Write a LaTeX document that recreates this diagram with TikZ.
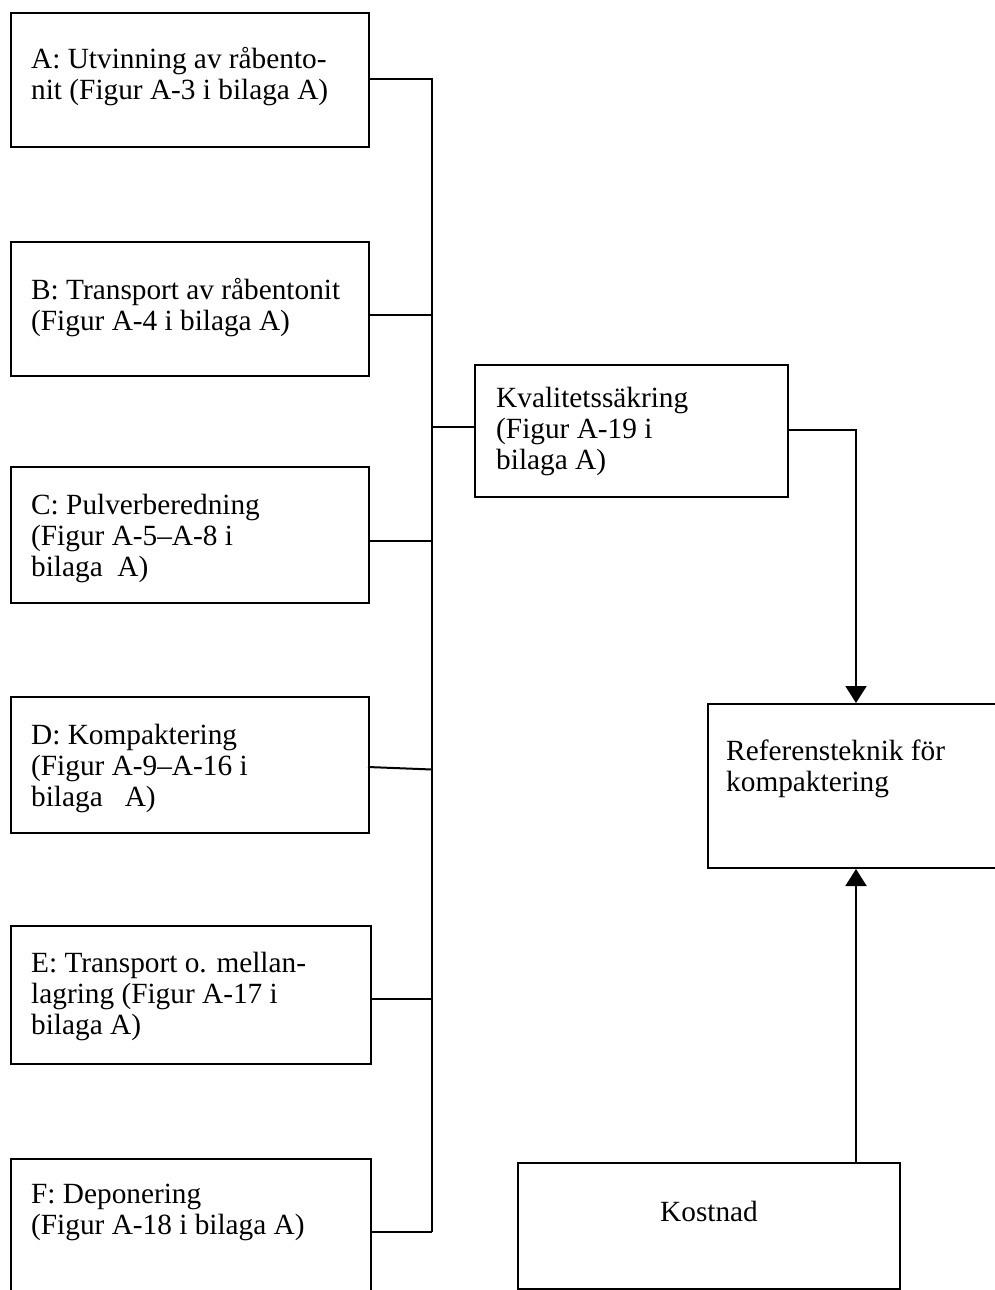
\documentclass[tikz,border=0pt]{standalone}
\usepackage{fontspec}
\setmainfont{Liberation Serif}
\usetikzlibrary{arrows.meta}
\newcommand{\boxfont}{\fontsize{29.3}{31}\selectfont}
\newcommand{\tlines}[1]{\begin{tabular}[t]{@{}l@{}}#1\end{tabular}}
\tikzset{
  box/.style={draw, line width=2pt, rectangle, inner sep=0pt, anchor=north west},
  txt/.style={anchor=base west, inner sep=0pt, font=\boxfont},
  link/.style={line width=2pt},
  arr/.style={link, -{Triangle[length=17pt,width=21pt]}}
}
\begin{document}
\begin{tikzpicture}[x=1pt,y=-1pt]
\useasboundingbox (0,0) rectangle (995,1290);
\clip (0,0) rectangle (995,1290);
% boxes
\node[box, minimum width=358pt, minimum height=134pt] (A) at (10,12) {};
\node[box, minimum width=358pt, minimum height=134pt] (B) at (10,241) {};
\node[box, minimum width=358pt, minimum height=136pt] (C) at (10,466) {};
\node[box, minimum width=358pt, minimum height=136pt] (D) at (10,696) {};
\node[box, minimum width=360pt, minimum height=138pt] (E) at (10,925) {};
\node[box, minimum width=360pt, minimum height=150pt] (F) at (10,1158) {};
\node[box, minimum width=313pt, minimum height=132pt] (K) at (474,364) {};
\node[box, minimum width=320pt, minimum height=164pt] (R) at (707,703) {};
\node[box, minimum width=382pt, minimum height=126pt] (Kost) at (517,1162) {};
% texts
\node[txt] (tA) at (31,69) {\tlines{A: Utvinning av råbento-\\nit (Figur A-3 i bilaga A)}};
\node[txt] (tB) at (31,299) {\tlines{B: Transport av råbentonit\\(Figur A-4 i bilaga A)}};
\node[txt] (tC) at (31,514) {\tlines{C: Pulverberedning\\(Figur A-5–A-8 i\\bilaga\ \ A)}};
\node[txt] (tD) at (31,744) {\tlines{D: Kompaktering\\(Figur A-9–A-16 i\\bilaga\ \ \ A)}};
\node[txt] (tE) at (31,972) {\tlines{E: Transport o. mellan-\\lagring (Figur A-17 i\\bilaga A)}};
\node[txt] (tF) at (31,1203) {\tlines{F: Deponering\\(Figur A-18 i bilaga A)}};
\node[txt] (tK) at (496,407) {\tlines{Kvalitetssäkring\\(Figur A-19 i\\bilaga A)}};
\node[txt] (tR) at (726,760) {\tlines{Referensteknik för\\kompaktering}};
\node[txt] (tKost) at (660,1221) {Kostnad};
% bus junctions
\coordinate (jA) at (432,79);
\coordinate (jB) at (432,315);
\coordinate (jK) at (432,427);
\coordinate (jC) at (432,541);
\coordinate (jD) at (432,769.5);
\coordinate (dS) at (368,767);
\coordinate (jE) at (432,999);
\coordinate (jF) at (432,1232);
\coordinate (jR) at (856,430);
% connectors
\draw[link] (jA -| A.east) -- (jA) -- (jF);
\draw[link] (jB -| B.east) -- (jB);
\draw[link] (jC -| C.east) -- (jC);
\draw[link] (dS) -- (jD);
\draw[link] (jE -| E.east) -- (jE);
\draw[link] (jF -| F.east) -- (jF);
\draw[link] (jK) -- (jK -| K.west);
\draw[arr] (jR -| K.east) -- (jR) -- (jR |- R.north);
\draw[arr] (jR |- Kost.north) -- (jR |- R.south);
\end{tikzpicture}
\end{document}
